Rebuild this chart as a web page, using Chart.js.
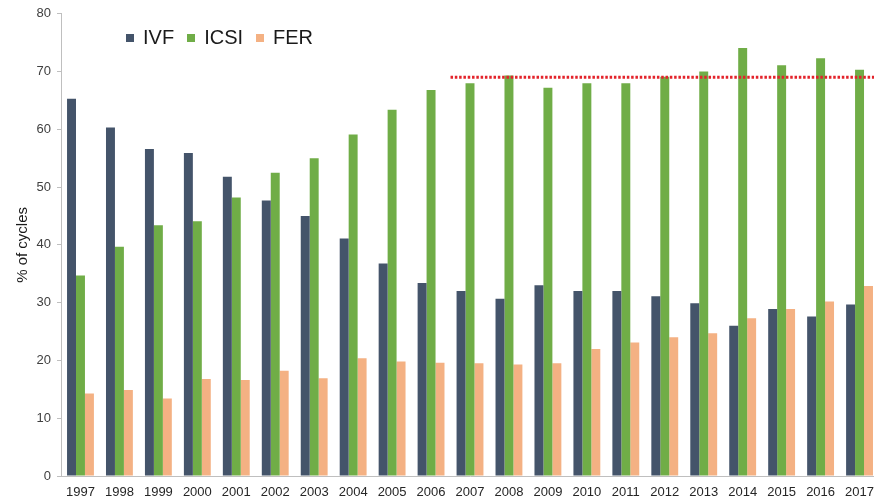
<!DOCTYPE html>
<html>
<head>
<meta charset="utf-8">
<script src="https://cdn.jsdelivr.net/npm/chart.js@4"></script>
<style>
  body { margin: 0; background: #fff; overflow: hidden; }
  #wrap { position: relative; width: 874px; height: 501px; overflow: hidden; }
  #legend { position: absolute; left: 126px; top: 26px; font-family: Arial, "Liberation Sans", sans-serif; font-size: 20px; color: #1a1a1a; white-space: nowrap; }
  #legend span.item { margin-right: 13px; }
  #legend span.box { display: inline-block; width: 8px; height: 8px; margin-right: 9px; vertical-align: 2px; }
</style>
</head>
<body>
<div id="wrap">
  <canvas id="myChart" width="883" height="501"></canvas>
  <div id="legend"></div>
</div>
<script>
const years = ['1997', '1998', '1999', '2000', '2001', '2002', '2003', '2004', '2005', '2006', '2007',
    '2008', '2009', '2010', '2011', '2012', '2013', '2014', '2015', '2016', '2017'];
const ivf = [65.3, 60.3, 56.6, 55.9, 51.8, 47.7, 45.0, 41.1, 36.8, 33.4, 32.0,
    30.7, 33.0, 32.0, 32.0, 31.1, 29.9, 26.0, 28.9, 27.6, 29.7];
const icsi = [34.7, 39.7, 43.4, 44.1, 48.2, 52.5, 55.0, 59.1, 63.4, 66.8, 68.0,
    69.3, 67.2, 68.0, 68.0, 69.1, 70.0, 74.1, 71.1, 72.3, 70.3];
const fer = [14.3, 14.9, 13.4, 16.8, 16.6, 18.2, 16.9, 20.4, 19.8, 19.6, 19.5,
    19.3, 19.5, 22.0, 23.1, 24.0, 24.7, 27.3, 28.9, 30.2, 32.9];
const yTicks = [0, 10, 20, 30, 40, 50, 60, 70, 80];

// reference line (dotted red) from between 2006/2007 to the end
const refValue = 69;
const refStartIndex = 9.5;

const colors = ['#44546a', '#70ad47', '#f4b183'];

const refLine = {
    id: 'refLine',
    afterDatasetsDraw(chart) {
        const ctx = chart.ctx;
        const x = chart.scales.x, y = chart.scales.y;
        const yy = y.getPixelForValue(refValue);
        ctx.save();
        ctx.strokeStyle = '#e3232b';
        ctx.lineWidth = 3;
        ctx.setLineDash([2.5, 1.8]);
        ctx.beginPath();
        ctx.moveTo(x.getPixelForValue(refStartIndex), yy);
        ctx.lineTo(chart.chartArea.right, yy);
        ctx.stroke();
        ctx.restore();
    }
};

const chart = new Chart(document.getElementById('myChart'), {
    type: 'bar',
    data: {
        labels: years,
        datasets: [
            { label: 'IVF', data: ivf, backgroundColor: colors[0] },
            { label: 'ICSI', data: icsi, backgroundColor: colors[1] },
            { label: 'FER', data: fer, backgroundColor: colors[2] }
        ]
    },
    options: {
        responsive: false,
        animation: false,
        layout: { padding: { top: 5, right: 0, left: 0, bottom: 0 } },
        datasets: { bar: { categoryPercentage: 0.69, barPercentage: 1.0 } },
        plugins: {
            legend: { display: false },
            tooltip: { enabled: false }
        },
        scales: {
            x: {
                afterFit(scale) { scale.height = 25; },
                grid: { drawOnChartArea: false, drawTicks: false },
                border: { color: '#bfbfbf', width: 1 },
                ticks: {
                    color: '#262626', padding: 9, maxRotation: 0, autoSkip: false,
                    font: { family: 'Arial, "Liberation Sans", sans-serif', size: 13 }
                }
            },
            y: {
                min: 0, max: 80,
                afterBuildTicks(scale) { scale.ticks = yTicks.map(v => ({ value: v })); },
                afterFit(scale) { scale.width = 61; },
                grid: { drawOnChartArea: false, drawTicks: true, tickLength: 4, color: '#bfbfbf' },
                border: { color: '#bfbfbf', width: 1 },
                ticks: {
                    color: '#404040', padding: 6,
                    font: { family: 'Arial, "Liberation Sans", sans-serif', size: 13 }
                },
                title: {
                    display: true, text: '% of cycles', color: '#1a1a1a', padding: { top: 14, bottom: 0 },
                    font: { family: 'Arial, "Liberation Sans", sans-serif', size: 15 }
                }
            }
        }
    },
    plugins: [refLine]
});

// html legend built from the datasets
const legend = document.getElementById('legend');
chart.data.datasets.forEach(ds => {
    const item = document.createElement('span');
    item.className = 'item';
    const box = document.createElement('span');
    box.className = 'box';
    box.style.background = ds.backgroundColor;
    item.appendChild(box);
    item.appendChild(document.createTextNode(ds.label));
    legend.appendChild(item);
});
</script>
</body>
</html>
